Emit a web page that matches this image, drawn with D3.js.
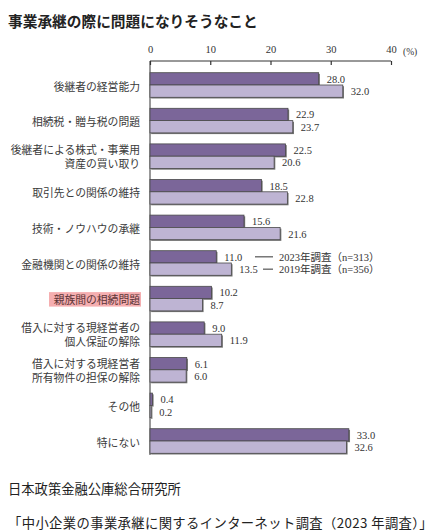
<!DOCTYPE html>
<html>
<head>
<meta charset="utf-8">
<script src="https://cdn.jsdelivr.net/npm/d3@7"></script>
<style>
  html, body { margin: 0; padding: 0; background: #fff; }
  svg { display: block; }
</style>
</head>
<body>
<div id="chart"></div>
<script>
const title = "事業承継の際に問題になりそうなこと";
const categories = [
  "後継者の経営能力",
  "相続税・贈与税の問題",
  "後継者による株式・事業用\n資産の買い取り",
  "取引先との関係の維持",
  "技術・ノウハウの承継",
  "金融機関との関係の維持",
  "親族間の相続問題",
  "借入に対する現経営者の\n個人保証の解除",
  "借入に対する現経営者\n所有物件の担保の解除",
  "その他",
  "特にない"
];
const values2023 = [28.0, 22.9, 22.5, 18.5, 15.6, 11.0, 10.2, 9.0, 6.1, 0.4, 33.0];
const values2019 = [32.0, 23.7, 20.6, 22.8, 21.6, 13.5, 8.7, 11.9, 6.0, 0.2, 32.6];
const seriesNames = ["2023年調査（n=313）", "2019年調査（n=356）"];
const tickValues = [0, 10, 20, 30, 40];
const unitLabel = "(%)";
const highlighted = "親族間の相続問題";
const legendCategory = "金融機関との関係の維持";
const sourceLines = ["日本政策金融公庫総合研究所", "「中小企業の事業承継に関するインターネット調査（2023 年調査）」"];

const W = 433, H = 532;
const colors = ["#7b6699", "#beb4d3"];
const jp = "'Noto Sans CJK JP', 'Noto Sans', sans-serif";
const jpCompact = "'Liberation Sans', 'Noto Sans CJK JP', sans-serif";
const serifJp = "'Liberation Serif', 'Noto Sans CJK JP', serif";
const serif = "'Liberation Serif', 'DejaVu Serif', serif";

const svg = d3.select("#chart").append("svg").attr("width", W).attr("height", H);

const x = d3.scaleLinear().domain([0, 40]).range([150, 391]);
const y = d3.scaleBand().domain(categories).range([67.2, 458.8]).padding(0);
const barH = 12.3;

// title
svg.append("text").attr("x", 8).attr("y", 20).attr("dominant-baseline", "central")
  .attr("font-family", jp).attr("font-weight", "bold").attr("font-size", 14.7)
  .attr("fill", "#222").text(title);

// top axis
const axis = d3.axisTop(x).tickValues(tickValues).tickSize(-4).tickPadding(8).tickFormat(d3.format("d"));
const gAxis = svg.append("g").attr("transform", "translate(0,61)").call(axis);
gAxis.select(".domain").attr("stroke", "#333").attr("stroke-width", 1).attr("d", `M${x(0)},0H${x(40)}`);
gAxis.selectAll(".tick line").attr("stroke", "#333").attr("stroke-width", 1.2);
gAxis.selectAll(".tick text").attr("font-family", serif).attr("font-size", 10.5).attr("fill", "#333");
svg.append("text").attr("x", 403).attr("y", 52).attr("dominant-baseline", "central")
  .attr("font-family", serif).attr("font-size", 9.5).attr("fill", "#333").text(unitLabel);

// vertical axis line
svg.append("line").attr("x1", x(0)).attr("x2", x(0)).attr("y1", 61).attr("y2", 455)
  .attr("stroke", "#333").attr("stroke-width", 1);

// bars
const rows = categories.map((c, i) => ({ c, v: [values2023[i], values2019[i]] }));
const g = svg.append("g");
rows.forEach(r => {
  const cy = y(r.c) + y.bandwidth() / 2;
  r.v.forEach((v, k) => {
    const top = cy - barH + k * barH;
    g.append("rect").attr("x", x(0) + 1.2).attr("y", top + 1.2)
      .attr("width", Math.max(0, x(v) - x(0))).attr("height", barH)
      .attr("fill", "#777");
    g.append("rect").attr("x", x(0)).attr("y", top)
      .attr("width", Math.max(0.5, x(v) - x(0))).attr("height", barH)
      .attr("fill", colors[k]).attr("stroke", "#4a4a4a").attr("stroke-width", 0.8);
    g.append("text").attr("x", x(v) + 8).attr("y", top + barH / 2 + 0.5)
      .attr("dominant-baseline", "central")
      .attr("font-family", serif).attr("font-size", 10.5).attr("fill", "#333")
      .text(d3.format(".1f")(v));
  });
});

// category labels
rows.forEach(r => {
  const cy = y(r.c) + y.bandwidth() / 2;
  const lines = r.c.split("\n");
  const gl = svg.append("g");
  if (r.c === highlighted) {
    gl.append("rect").attr("x", 49).attr("y", cy - 6.5).attr("width", 92).attr("height", 14.5)
      .attr("fill", "#f5aeb0");
  }
  lines.forEach((ln, j) => {
    const off = lines.length === 1 ? 1.5 : (j === 0 ? -6 : 8);
    gl.append("text").attr("x", 140).attr("y", cy + off).attr("text-anchor", "end")
      .attr("dominant-baseline", "central")
      .attr("font-family", jpCompact).attr("font-size", 10.8)
      .attr("fill", r.c === highlighted ? "#5a3436" : "#3a3a3a").text(ln);
  });
});

// legend
const lcy = y(legendCategory) + y.bandwidth() / 2;
const legendRows = [
  { name: seriesNames[0], y: lcy - barH / 2, x1: 255 },
  { name: seriesNames[1], y: lcy + barH / 2, x1: 263 }
];
legendRows.forEach(l => {
  svg.append("line").attr("x1", l.x1).attr("x2", 273).attr("y1", l.y).attr("y2", l.y)
    .attr("stroke", "#333").attr("stroke-width", 1);
  svg.append("text").attr("x", 279).attr("y", l.y + 0.5).attr("dominant-baseline", "central")
    .attr("font-family", serifJp).attr("font-size", 10.5).attr("fill", "#333").text(l.name);
});

// source
svg.append("text").attr("x", 8).attr("y", 488).attr("dominant-baseline", "central")
  .attr("font-family", jp).attr("font-size", 13.3).attr("fill", "#222").text(sourceLines[0]);
svg.append("text").attr("x", 8).attr("y", 522).attr("dominant-baseline", "central")
  .attr("font-family", jp).attr("font-size", 13.3).attr("letter-spacing", 0.4)
  .attr("fill", "#222").text(sourceLines[1]);
</script>
</body>
</html>
